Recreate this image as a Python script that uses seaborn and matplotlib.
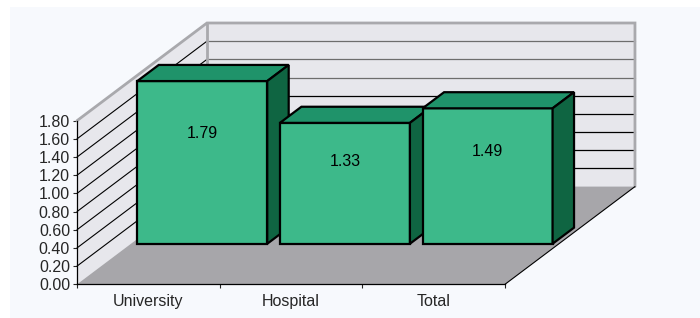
import matplotlib
matplotlib.use("Agg")
import matplotlib.pyplot as plt
from matplotlib.patches import Polygon, Rectangle
import seaborn as sns

categories = ["University", "Hospital", "Total"]
values = [1.79, 1.33, 1.49]
y_ticks = [0.0, 0.2, 0.4, 0.6, 0.8, 1.0, 1.2, 1.4, 1.6, 1.8]

FRONT = "#3DB98A"
TOP = "#1F936A"
SIDE = "#0F6542"
WALL = "#E7E7EC"
FLOOR = "#A7A6AA"
EDGE = "#A9A9AD"

# oblique depth vector (data units of the front plane)
DX, DY = 0.911, 1.075
d_front, d_back = 0.415, 0.58

sns.set_style("white")
plt.rcParams["font.family"] = ["Liberation Sans", "DejaVu Sans"]

fig = plt.figure(figsize=(7, 3.18), dpi=100, facecolor="#F7F9FD")
fig.patches.append(Rectangle((0, 0), 10 / 700, 1, transform=fig.transFigure,
                             facecolor="white", edgecolor="none", zorder=-5))
fig.patches.append(Rectangle((0, 1 - 7 / 318), 1, 7 / 318, transform=fig.transFigure,
                             facecolor="white", edgecolor="none", zorder=-5))

ax = fig.add_axes([77 / 700, (318 - 284.3) / 318, 428 / 700, 163.6 / 318])
ax.set_facecolor("none")

x0, x1 = -0.5, len(categories) - 0.5
ytop = y_ticks[-1]

# walls and floor
ax.add_patch(Polygon([(x0, 0), (x0, ytop), (x0 + DX, ytop + DY), (x0 + DX, DY)],
                     closed=True, facecolor=WALL, edgecolor="none", zorder=0, clip_on=False))
ax.add_patch(Polygon([(x0 + DX, DY), (x1 + DX, DY), (x1 + DX, ytop + DY), (x0 + DX, ytop + DY)],
                     closed=True, facecolor=WALL, edgecolor="none", zorder=0, clip_on=False))
ax.add_patch(Polygon([(x0, 0), (x1, 0), (x1 + DX, DY), (x0 + DX, DY)],
                     closed=True, facecolor=FLOOR, edgecolor="none", zorder=0, clip_on=False))

for t in y_ticks[1:-1]:
    ax.plot([x0, x0 + DX], [t, t + DY], color="black", lw=0.8, zorder=1, clip_on=False)
    ax.plot([x0 + DX, x1 + DX], [t + DY, t + DY], color="#6d6d6d" if t >= 1.1 else "black",
            lw=0.9, zorder=1, clip_on=False)

ax.plot([x0, x0 + DX, x1 + DX, x1 + DX], [ytop, ytop + DY, ytop + DY, DY],
        color=EDGE, lw=2, zorder=1, clip_on=False, solid_joinstyle="miter")
ax.plot([x0 + DX, x0 + DX], [DY, ytop + DY], color=EDGE, lw=2, zorder=1, clip_on=False)
ax.plot([x1, x1 + DX], [0, DY], color="black", lw=0.8, zorder=1, clip_on=False)

# bars
sns.barplot(x=categories, y=values, ax=ax, width=0.911, color=FRONT,
            edgecolor="black", linewidth=1.6, saturation=1)

fx, fy = DX * d_front, DY * d_front
bx, by = DX * (d_back - d_front), DY * (d_back - d_front)
for i, (bar, v) in enumerate(zip(ax.patches[-len(values):], values)):
    bar.set_x(bar.get_x() + fx)
    bar.set_y(fy)
    bar.set_clip_on(False)
    bar.set_zorder(3 + i)
    l, r = bar.get_x(), bar.get_x() + bar.get_width()
    t = fy + v
    ax.add_patch(Polygon([(l, t), (r, t), (r + bx, t + by), (l + bx, t + by)], closed=True,
                         facecolor=TOP, edgecolor="black", lw=1.6, zorder=3 + i,
                         clip_on=False, joinstyle="miter"))
    ax.add_patch(Polygon([(r, fy), (r, t), (r + bx, t + by), (r + bx, fy + by)], closed=True,
                         facecolor=SIDE, edgecolor="black", lw=1.6, zorder=3 + i,
                         clip_on=False, joinstyle="miter"))
    ax.text((l + r) / 2, fy + v * 0.68, f"{v:.2f}", ha="center", va="center",
            fontsize=11.5, color="black", zorder=10)

ax.set_xlim(x0, x1)
ax.set_ylim(0, ytop)
ax.set_yticks(y_ticks)
ax.set_yticklabels([f"{t:.2f}" for t in y_ticks])
ax.set_xticks(range(len(categories)))
ax.set_xticklabels(categories)
ax.set_xticks([x0 + k for k in range(len(categories) + 1)], minor=True)
ax.tick_params(axis="y", which="major", direction="out", length=3, width=0.8,
               pad=2, labelsize=11.5, left=True)
ax.tick_params(axis="x", which="major", length=0, pad=7, labelsize=11.5)
ax.tick_params(axis="x", which="minor", direction="out", length=3, width=0.8, bottom=True)
ax.set_xlabel("")
ax.set_ylabel("")

for s in ["top", "right"]:
    ax.spines[s].set_visible(False)
for s in ["left", "bottom"]:
    ax.spines[s].set_color("black")
    ax.spines[s].set_linewidth(0.9)
    ax.spines[s].set_zorder(2)

fig.savefig("out.png", dpi=100, facecolor=fig.get_facecolor())
